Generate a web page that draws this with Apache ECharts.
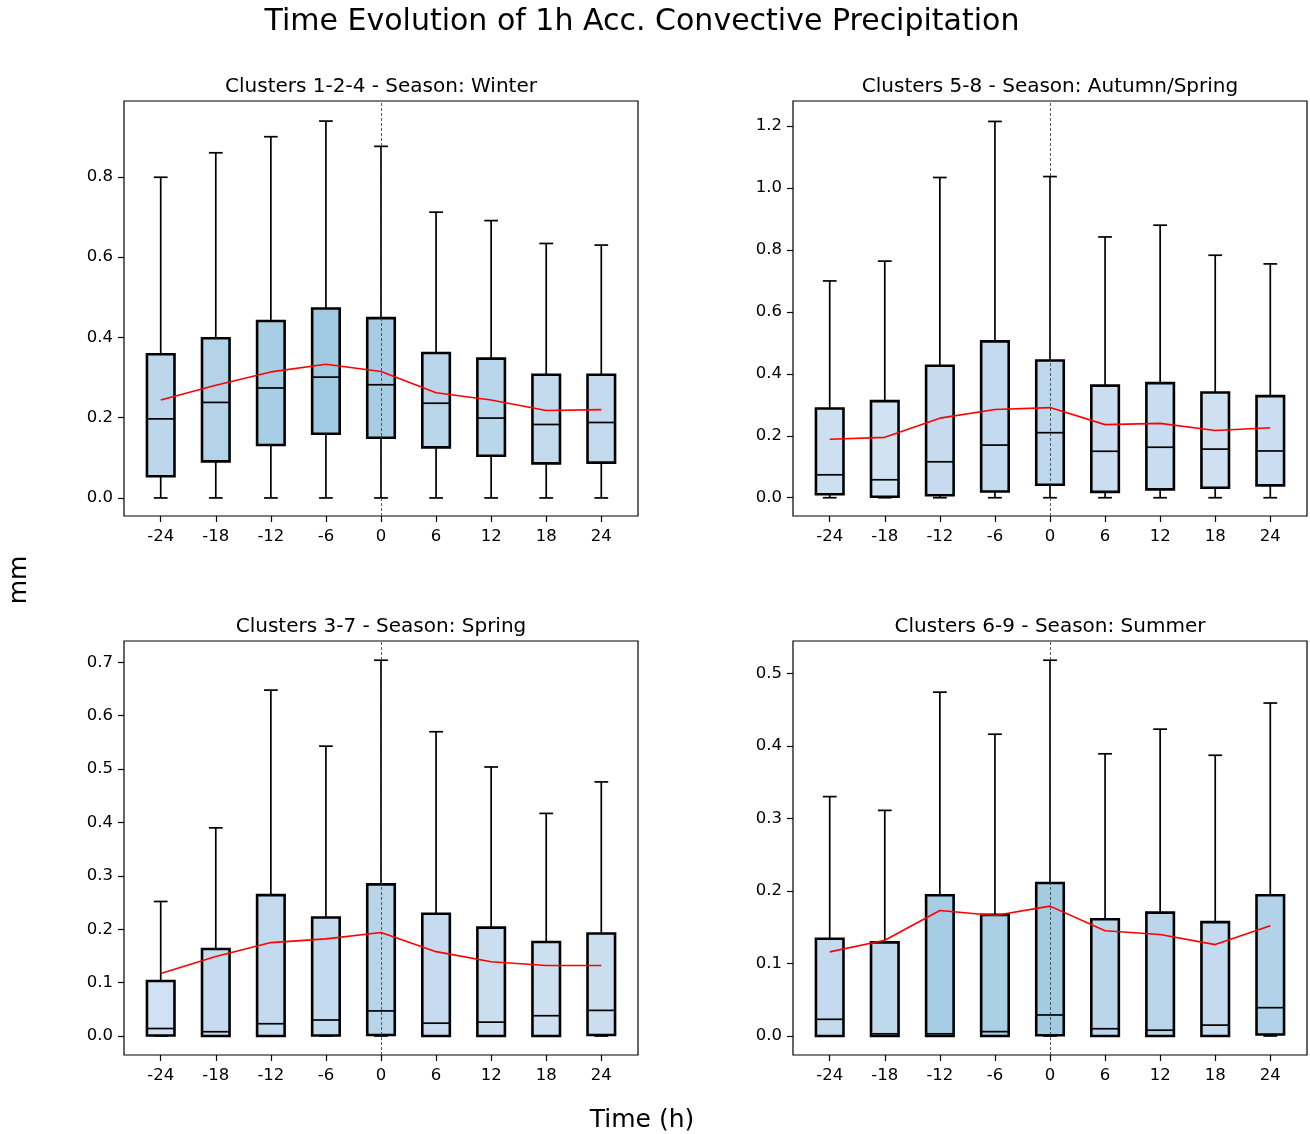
<!DOCTYPE html>
<html>
<head>
<meta charset="utf-8">
<title>Time Evolution of 1h Acc. Convective Precipitation</title>
<script src="https://cdn.jsdelivr.net/npm/echarts@6/dist/echarts.min.js"></script>
<style>
  html, body { margin: 0; padding: 0; background: #fff; }
  #chart { width: 1310px; height: 1134px; }
</style>
</head>
<body>
<div id="chart"></div>
<script>
// Lead time relative to the event (hours)
const hours = [-24, -18, -12, -6, 0, 6, 12, 18, 24];

// Clusters 1-2-4, winter
const winterLow    = [0, 0, 0, 0, 0, 0, 0, 0, 0];
const winterQ1     = [0.054, 0.091, 0.132, 0.160, 0.150, 0.126, 0.105, 0.086, 0.088];
const winterMedian = [0.197, 0.238, 0.274, 0.301, 0.282, 0.236, 0.199, 0.183, 0.188];
const winterQ3     = [0.358, 0.398, 0.441, 0.472, 0.448, 0.361, 0.347, 0.307, 0.307];
const winterHigh   = [0.799, 0.860, 0.900, 0.939, 0.876, 0.712, 0.691, 0.634, 0.630];
const winterMean   = [0.244, 0.281, 0.314, 0.333, 0.315, 0.262, 0.244, 0.218, 0.220];

// Clusters 5-8, autumn/spring
const autumnLow    = [0, 0, 0, 0, 0, 0, 0, 0, 0];
const autumnQ1     = [0.011, 0.003, 0.008, 0.020, 0.042, 0.019, 0.027, 0.032, 0.040];
const autumnMedian = [0.074, 0.058, 0.116, 0.170, 0.210, 0.150, 0.163, 0.157, 0.151];
const autumnQ3     = [0.288, 0.312, 0.426, 0.505, 0.443, 0.362, 0.370, 0.340, 0.328];
const autumnHigh   = [0.700, 0.764, 1.034, 1.215, 1.037, 0.842, 0.880, 0.783, 0.755];
const autumnMean   = [0.189, 0.195, 0.257, 0.285, 0.291, 0.236, 0.240, 0.217, 0.226];

// Clusters 3-7, spring
const springLow    = [0, 0, 0, 0, 0, 0, 0, 0, 0];
const springQ1     = [0.001, 0.0, 0.0, 0.001, 0.002, 0.0, 0.0, 0.0, 0.002];
const springMedian = [0.014, 0.008, 0.023, 0.030, 0.047, 0.024, 0.026, 0.038, 0.048];
const springQ3     = [0.103, 0.163, 0.264, 0.222, 0.284, 0.229, 0.203, 0.176, 0.192];
const springHigh   = [0.252, 0.390, 0.648, 0.543, 0.704, 0.570, 0.504, 0.417, 0.476];
const springMean   = [0.117, 0.149, 0.175, 0.182, 0.194, 0.158, 0.139, 0.132, 0.132];

// Clusters 6-9, summer
const summerLow    = [0, 0, 0, 0, 0, 0, 0, 0, 0];
const summerQ1     = [0.0, 0.0, 0.0, 0.0, 0.001, 0.0, 0.0, 0.0, 0.002];
const summerMedian = [0.023, 0.003, 0.003, 0.006, 0.029, 0.010, 0.008, 0.015, 0.039];
const summerQ3     = [0.134, 0.129, 0.194, 0.167, 0.211, 0.161, 0.170, 0.157, 0.194];
const summerHigh   = [0.330, 0.311, 0.474, 0.416, 0.518, 0.389, 0.423, 0.387, 0.459];
const summerMean   = [0.116, 0.132, 0.173, 0.166, 0.179, 0.145, 0.140, 0.126, 0.152];

// Y tick labels for each panel
const winterTicks = [0, 0.2, 0.4, 0.6, 0.8];
const autumnTicks = [0, 0.2, 0.4, 0.6, 0.8, 1.0, 1.2];
const springTicks = [0, 0.1, 0.2, 0.3, 0.4, 0.5, 0.6, 0.7];
const summerTicks = [0, 0.1, 0.2, 0.3, 0.4, 0.5];

// Box fill shades (Blues)
const winterColors = ['#bcd7eb', '#b4d3e9', '#a7cee4', '#9fcae1', '#a6cde3', '#b9d5ea', '#bad6eb', '#c3daee', '#c3daee'];
const autumnColors = ['#cde0f1', '#d1e2f3', '#c6dbef', '#c3d9ee', '#bdd7ec', '#cbdef1', '#c9ddf0', '#cfe0f1', '#cbdef1'];
const springColors = ['#cfe1f2', '#c6dbef', '#c2d9ee', '#c4daee', '#b9d5ea', '#c6dbef', '#cadef0', '#cddff1', '#cadef0'];
const summerColors = ['#c3daee', '#bed8ec', '#a6cde4', '#a9cfe5', '#a3cce3', '#bad6eb', '#b9d5ea', '#c4daee', '#b1d2e8'];

const FONT = '"DejaVu Sans", "Liberation Sans", sans-serif';
const BOX_HALF = 1.5;   // half box width, in hours
const CAP_HALF = 0.75;  // half cap width, in hours

const panels = [
  { title: 'Clusters 1-2-4 - Season: Winter', left: 124, top: 101, width: 514, height: 415,
    ymin: -0.045, ymax: 0.989, ticks: winterTicks, colors: winterColors,
    low: winterLow, q1: winterQ1, med: winterMedian, q3: winterQ3, high: winterHigh, mean: winterMean },
  { title: 'Clusters 5-8 - Season: Autumn/Spring', left: 793, top: 101, width: 514, height: 415,
    ymin: -0.059, ymax: 1.281, ticks: autumnTicks, colors: autumnColors,
    low: autumnLow, q1: autumnQ1, med: autumnMedian, q3: autumnQ3, high: autumnHigh, mean: autumnMean },
  { title: 'Clusters 3-7 - Season: Spring', left: 124, top: 641, width: 514, height: 414,
    ymin: -0.0356, ymax: 0.740, ticks: springTicks, colors: springColors,
    low: springLow, q1: springQ1, med: springMedian, q3: springQ3, high: springHigh, mean: springMean },
  { title: 'Clusters 6-9 - Season: Summer', left: 793, top: 641, width: 514, height: 414,
    ymin: -0.0262, ymax: 0.5445, ticks: summerTicks, colors: summerColors,
    low: summerLow, q1: summerQ1, med: summerMedian, q3: summerQ3, high: summerHigh, mean: summerMean }
];

const grids = [], xAxes = [], yAxes = [], series = [], graphics = [];

panels.forEach((p, k) => {
  grids.push({
    left: p.left, top: p.top, width: p.width, height: p.height,
    show: true, borderColor: '#000', borderWidth: 1.2, backgroundColor: 'transparent'
  });
  xAxes.push({
    type: 'value', gridIndex: k, min: -28, max: 28,
    splitLine: { show: false },
    axisLine: { show: false, onZero: false },
    axisTick: { show: true, length: 6, customValues: hours, lineStyle: { color: '#000', width: 1.2 } },
    axisLabel: { customValues: hours, margin: 12, color: '#000', fontSize: 16.5, fontFamily: FONT,
                 formatter: v => String(v) }
  });
  yAxes.push({
    type: 'value', gridIndex: k, min: p.ymin, max: p.ymax,
    splitLine: { show: false },
    axisLine: { show: false, onZero: false },
    axisTick: { show: true, length: 6, customValues: p.ticks, lineStyle: { color: '#000', width: 1.2 } },
    axisLabel: { customValues: p.ticks, margin: 11, color: '#000', fontSize: 16.5, fontFamily: FONT,
                 formatter: v => v.toFixed(1) }
  });

  const boxData = hours.map((h, i) => [h, p.low[i], p.q1[i], p.med[i], p.q3[i], p.high[i]]);
  const colors = p.colors;

  series.push({
    type: 'custom', xAxisIndex: k, yAxisIndex: k, z: 2,
    data: boxData,
    encode: { x: 0, y: [1, 2, 3, 4, 5] },
    renderItem: function (params, api) {
      const x = api.value(0);
      const yLow = api.coord([x, api.value(1)])[1];
      const yQ1 = api.coord([x, api.value(2)])[1];
      const yMed = api.coord([x, api.value(3)])[1];
      const yQ3 = api.coord([x, api.value(4)])[1];
      const yHigh = api.coord([x, api.value(5)])[1];
      const cx = api.coord([x, 0])[0];
      const bl = api.coord([x - BOX_HALF, 0])[0];
      const br = api.coord([x + BOX_HALF, 0])[0];
      const cl = api.coord([x - CAP_HALF, 0])[0];
      const cr = api.coord([x + CAP_HALF, 0])[0];
      const thin = { stroke: '#000', lineWidth: 1.7 };
      return {
        type: 'group',
        children: [
          { type: 'line', shape: { x1: cx, y1: yQ1, x2: cx, y2: yLow }, style: thin },
          { type: 'line', shape: { x1: cx, y1: yQ3, x2: cx, y2: yHigh }, style: thin },
          { type: 'line', shape: { x1: cl, y1: yLow, x2: cr, y2: yLow }, style: thin },
          { type: 'line', shape: { x1: cl, y1: yHigh, x2: cr, y2: yHigh }, style: thin },
          { type: 'rect', shape: { x: bl, y: yQ3, width: br - bl, height: yQ1 - yQ3 },
            style: { fill: colors[params.dataIndex], stroke: '#000', lineWidth: 2.6 } },
          { type: 'line', shape: { x1: bl, y1: yMed, x2: br, y2: yMed }, style: thin }
        ]
      };
    }
  });

  series.push({
    type: 'line', xAxisIndex: k, yAxisIndex: k, z: 4,
    data: hours.map((h, i) => [h, p.mean[i]]),
    showSymbol: false, symbol: 'none', smooth: false,
    lineStyle: { color: '#ff0000', width: 1.6 },
    itemStyle: { color: '#ff0000' },
    markLine: {
      silent: true, symbol: 'none', label: { show: false },
      lineStyle: { color: '#333', width: 0.8, type: [3, 2] },
      data: [{ xAxis: 0 }]
    }
  });

  graphics.push({
    type: 'text', x: p.left + p.width / 2, y: p.top - 14,
    style: { text: p.title, align: 'center', verticalAlign: 'middle',
             fontSize: 20, fontFamily: FONT, fill: '#000' }
  });
});

graphics.push({
  type: 'text', x: 642, y: 22,
  style: { text: 'Time Evolution of 1h Acc. Convective Precipitation', align: 'center', verticalAlign: 'middle',
           fontSize: 30, fontFamily: FONT, fill: '#000' }
});
graphics.push({
  type: 'text', x: 642, y: 1120,
  style: { text: 'Time (h)', align: 'center', verticalAlign: 'middle',
           fontSize: 25, fontFamily: FONT, fill: '#000' }
});
graphics.push({
  type: 'text', x: 19, y: 580, rotation: Math.PI / 2,
  style: { text: 'mm', align: 'center', verticalAlign: 'middle',
           fontSize: 25, fontFamily: FONT, fill: '#000' }
});

const chart = echarts.init(document.getElementById('chart'), null, { renderer: 'canvas' });
chart.setOption({
  animation: false,
  backgroundColor: '#fff',
  grid: grids,
  xAxis: xAxes,
  yAxis: yAxes,
  series: series,
  graphic: graphics
});
</script>
</body>
</html>
